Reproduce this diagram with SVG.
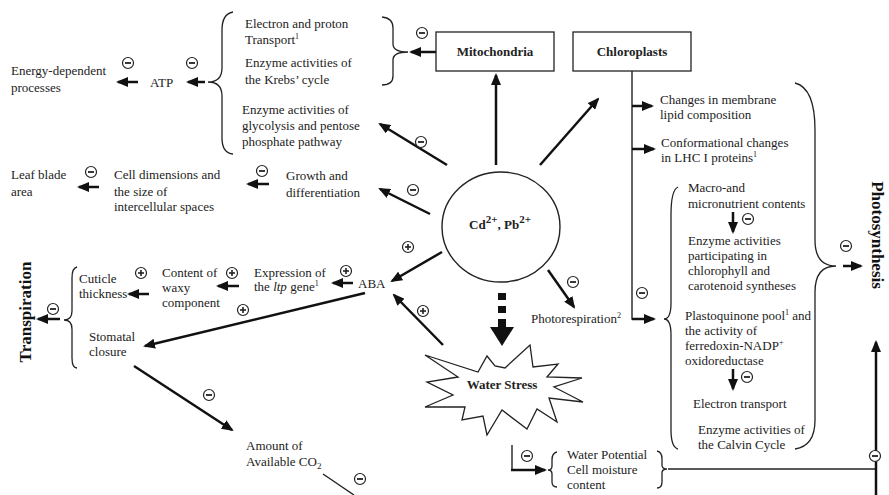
<svg xmlns="http://www.w3.org/2000/svg" xmlns:xlink="http://www.w3.org/1999/xlink" width="889" height="495" viewBox="0 0 889 495">
<style>
text{font-family:"Liberation Serif","Times New Roman",serif;font-size:13px;fill:#222}
.b{font-weight:bold}
.big{font-weight:bold;font-size:17px;fill:#111}
.th{stroke:#111;stroke-width:2.5;fill:none}
.tn{stroke:#222;stroke-width:1.4;fill:none}
.br{stroke:#222;stroke-width:1.3;fill:none}
.box{fill:#fff;stroke:#222;stroke-width:1.3}
</style>
<defs>
<marker id="ah" markerUnits="userSpaceOnUse" markerWidth="12" markerHeight="10" refX="10" refY="5" orient="auto">
<path d="M0,0 L12,5 L0,10 z" fill="#111"/>
</marker>
<g id="mn"><circle r="5.5" fill="#fff" stroke="#222" stroke-width="1.2"/><line x1="-3" x2="3" y1="0" y2="0" stroke="#222" stroke-width="1.8"/></g>
<g id="pl"><circle r="5.5" fill="#fff" stroke="#222" stroke-width="1.2"/><line x1="-3" x2="3" y1="0" y2="0" stroke="#222" stroke-width="1.6"/><line x1="0" x2="0" y1="-3" y2="3" stroke="#222" stroke-width="1.6"/></g>
</defs>
<rect width="889" height="495" fill="#fff"/>

<g id="connectors">
<line class="th" x1="205" y1="82" x2="188" y2="82" marker-end="url(#ah)"/>
<line class="th" x1="138" y1="82" x2="118" y2="82" marker-end="url(#ah)"/>
<line class="th" x1="436" y1="52" x2="411" y2="52" marker-end="url(#ah)"/>
<line class="th" x1="496" y1="165" x2="496" y2="75" marker-end="url(#ah)"/>
<line class="th" x1="447" y1="165" x2="380" y2="124" marker-end="url(#ah)"/>
<line class="th" x1="540" y1="165" x2="598" y2="99" marker-end="url(#ah)"/>
<line class="th" x1="430" y1="214" x2="380" y2="189" marker-end="url(#ah)"/>
<line class="th" x1="269" y1="184" x2="248" y2="184" marker-end="url(#ah)"/>
<line class="th" x1="99" y1="187" x2="79" y2="187" marker-end="url(#ah)"/>
<line class="th" x1="442" y1="252" x2="392" y2="281" marker-end="url(#ah)"/>
<line class="th" x1="443" y1="345" x2="394" y2="295" marker-end="url(#ah)"/>
<line class="th" x1="353" y1="283" x2="333" y2="283" marker-end="url(#ah)"/>
<line class="th" x1="239" y1="286" x2="218" y2="286" marker-end="url(#ah)"/>
<line class="th" x1="149" y1="294" x2="129" y2="294" marker-end="url(#ah)"/>
<line class="th" x1="60" y1="319" x2="38" y2="319" marker-end="url(#ah)"/>
<line class="th" x1="365" y1="293" x2="145" y2="346" marker-end="url(#ah)"/>
<line class="th" x1="134" y1="366" x2="232" y2="430" marker-end="url(#ah)"/>
<line class="tn" x1="323" y1="474" x2="354" y2="495"/>
<line class="th" x1="548" y1="270" x2="574" y2="307" marker-end="url(#ah)"/>
<polyline class="tn" points="632,71 632,319 644,319"/>
<line class="th" x1="632" y1="319" x2="654" y2="319" marker-end="url(#ah)"/>
<line class="th" x1="632" y1="106" x2="652" y2="106" marker-end="url(#ah)"/>
<line class="th" x1="632" y1="149" x2="654" y2="149" marker-end="url(#ah)"/>
<line class="th" x1="733" y1="212" x2="733" y2="232" marker-end="url(#ah)"/>
<line class="th" x1="733" y1="369" x2="733" y2="389" marker-end="url(#ah)"/>
<line class="th" x1="843" y1="266" x2="861" y2="266" marker-end="url(#ah)"/>
<line class="tn" x1="512" y1="445" x2="512" y2="470"/>
<line class="th" x1="511" y1="470" x2="545" y2="470" marker-end="url(#ah)"/>
<line class="tn" x1="668" y1="469" x2="876" y2="469"/>
<line class="th" x1="876" y1="495" x2="876" y2="342" marker-end="url(#ah)"/>
<g fill="#111">
<rect x="498" y="293" width="8" height="7"/>
<rect x="498" y="306" width="8" height="7"/>
<rect x="498" y="319" width="8" height="9"/>
<path d="M490,327 L514,327 L502,346 z"/>
</g>
</g>

<g id="braces">
<path class="br" d="M233,12 Q222,14 222,30 L222,68 Q222,82 208,82 Q222,82 222,96 L222,138 Q222,153 233,154"/>
<path class="br" d="M382,17 Q393,18 393,28 L393,44 Q393,52 408,52 Q393,52 393,60 L393,76 Q393,85 382,85"/>
<path class="br" d="M77,267 Q72,268 72,278 L72,311 Q72,320 64,320 Q72,320 72,329 L72,358 Q72,368 77,368"/>
<path class="br" d="M678,187 Q671,190 671,215 L671,303 Q671,319 664,319 Q671,319 671,335 L671,430 Q671,447 678,449"/>
<path class="br" d="M795,83 Q815,88 815,130 L815,240 Q815,266 836,266 Q815,266 815,292 L815,420 Q815,446 795,449"/>
<path class="br" d="M557,452 Q552,453 552,460 L552,466 Q552,470 548,470 Q552,470 552,474 L552,482 Q552,487 557,487"/>
<path class="br" d="M657,451 Q662,452 662,459 L662,465 Q662,469 667,469 Q662,469 662,473 L662,482 Q662,488 657,488"/>
</g>

<g id="signs">
<use xlink:href="#mn" x="128" y="63"/>
<use xlink:href="#mn" x="192" y="63"/>
<use xlink:href="#mn" x="422" y="33"/>
<use xlink:href="#mn" x="421" y="142"/>
<use xlink:href="#mn" x="413" y="190"/>
<use xlink:href="#mn" x="262" y="171"/>
<use xlink:href="#mn" x="91" y="172"/>
<use xlink:href="#mn" x="53" y="309"/>
<use xlink:href="#mn" x="209" y="395"/>
<use xlink:href="#mn" x="360" y="479"/>
<use xlink:href="#mn" x="573" y="282"/>
<use xlink:href="#mn" x="642" y="293"/>
<use xlink:href="#mn" x="748" y="219"/>
<use xlink:href="#mn" x="747" y="377"/>
<use xlink:href="#mn" x="846" y="246"/>
<use xlink:href="#mn" x="527" y="456"/>
<use xlink:href="#mn" x="875" y="456"/>
<use xlink:href="#pl" x="141" y="273"/>
<use xlink:href="#pl" x="232" y="273"/>
<use xlink:href="#pl" x="243" y="310"/>
<use xlink:href="#pl" x="346" y="271"/>
<use xlink:href="#pl" x="408" y="247"/>
<use xlink:href="#pl" x="423" y="311"/>
</g>

<g id="cd">
<ellipse cx="501" cy="227" rx="59" ry="55" fill="#fff" stroke="#222" stroke-width="1.4"/>
<text class="b" x="500" y="229" text-anchor="middle" font-size="16">Cd<tspan dy="-6" font-size="11">2+</tspan><tspan dy="6">, Pb</tspan><tspan dy="-6" font-size="11">2+</tspan></text>
</g>
<g id="mitochondria">
<rect class="box" x="436" y="32" width="118" height="39"/>
<text class="b" x="495" y="56" text-anchor="middle">Mitochondria</text>
</g>
<g id="chloroplasts">
<rect class="box" x="573" y="32" width="118" height="39"/>
<text class="b" x="632" y="56" text-anchor="middle">Chloroplasts</text>
</g>
<g id="waterstress">
<polygon points="425,355 478,372 487,356 495,366 505,368 530,345 533,367 558,364 547,377 582,378 554,387 583,402 549,398 557,422 537,409 527,429 502,410 487,435 483,416 462,420 465,407 425,407 453,395 427,382 458,377" fill="#fff" stroke="#222" stroke-width="1.3" stroke-linejoin="miter"/>
<text class="b" x="502" y="389" text-anchor="middle">Water Stress</text>
</g>

<g id="mito-effects">
<text x="245" y="28">Electron and proton</text>
<text x="245" y="44">Transport<tspan dy="-5" font-size="8">1</tspan></text>
<text x="245" y="67">Enzyme activities of</text>
<text x="245" y="84">the Krebs’ cycle</text>
</g>
<g id="glycolysis">
<text x="242" y="114">Enzyme activities of</text>
<text x="242" y="130">glycolysis and pentose</text>
<text x="242" y="146">phosphate pathway</text>
</g>
<g id="atp"><text x="150" y="87">ATP</text></g>
<g id="energy">
<text x="11" y="75">Energy-dependent</text>
<text x="11" y="92">processes</text>
</g>
<g id="growth">
<text x="286" y="180">Growth and</text>
<text x="286" y="197">differentiation</text>
</g>
<g id="celldim">
<text x="114" y="179">Cell dimensions and</text>
<text x="114" y="196">the size of</text>
<text x="114" y="211">intercellular spaces</text>
</g>
<g id="leaf">
<text x="11" y="179">Leaf blade</text>
<text x="11" y="196">area</text>
</g>
<g id="transpiration"><text class="big" transform="translate(31,312) rotate(-90)" text-anchor="middle">Transpiration</text></g>
<g id="cuticle">
<text x="79" y="283">Cuticle</text>
<text x="79" y="298">thickness</text>
</g>
<g id="waxy">
<text x="162" y="277">Content of</text>
<text x="162" y="292">waxy</text>
<text x="162" y="307">component</text>
</g>
<g id="ltp">
<text x="254" y="277" font-size="12">Expression of</text>
<text x="254" y="291" font-size="12">the <tspan font-style="italic">ltp</tspan> gene<tspan dy="-5" font-size="8">1</tspan></text>
</g>
<g id="aba"><text x="358" y="288">ABA</text></g>
<g id="stomatal">
<text x="89" y="341">Stomatal</text>
<text x="89" y="356">closure</text>
</g>
<g id="co2">
<text x="246" y="450">Amount of</text>
<text x="246" y="466">Available CO<tspan dy="3" font-size="9">2</tspan></text>
</g>
<g id="photoresp"><text x="531" y="323">Photorespiration<tspan dy="-5" font-size="8">2</tspan></text></g>
<g id="membrane">
<text x="660" y="104">Changes in membrane</text>
<text x="660" y="119">lipid composition</text>
</g>
<g id="lhc">
<text x="661" y="147">Conformational changes</text>
<text x="661" y="162">in LHC I proteins<tspan dy="-5" font-size="8">1</tspan></text>
</g>
<g id="nutrients">
<text x="688" y="192">Macro-and</text>
<text x="688" y="208">micronutrient contents</text>
</g>
<g id="chlorophyll">
<text x="688" y="245">Enzyme activities</text>
<text x="688" y="260">participating in</text>
<text x="688" y="275">chlorophyll and</text>
<text x="688" y="290">carotenoid syntheses</text>
</g>
<g id="plastoquinone">
<text x="685" y="320">Plastoquinone pool<tspan dy="-5" font-size="8">1</tspan><tspan dy="5"> and</tspan></text>
<text x="685" y="335">the activity of</text>
<text x="685" y="350">ferredoxin-NADP<tspan dy="-5" font-size="8">+</tspan></text>
<text x="685" y="365">oxidoreductase</text>
</g>
<g id="etransport"><text x="693" y="408">Electron transport</text></g>
<g id="calvin">
<text x="698" y="434">Enzyme activities of</text>
<text x="698" y="449">the Calvin Cycle</text>
</g>
<g id="photosynthesis"><text class="big" transform="translate(872,235) rotate(90)" text-anchor="middle">Photosynthesis</text></g>
<g id="waterpotential">
<text x="567" y="459">Water Potential</text>
<text x="567" y="474">Cell moisture</text>
<text x="567" y="489">content</text>
</g>
</svg>
